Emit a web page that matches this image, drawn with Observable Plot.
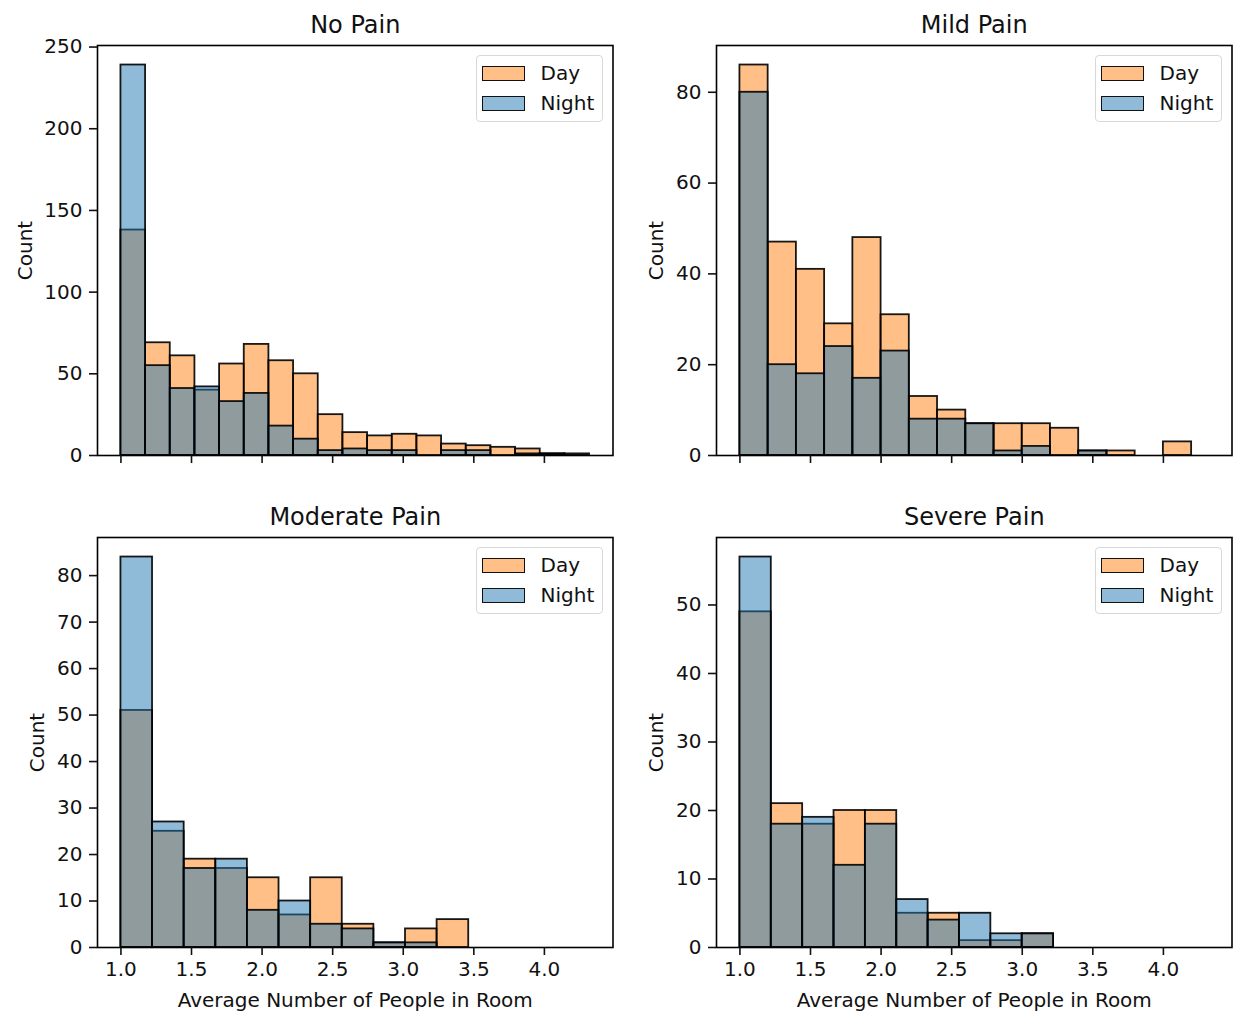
<!DOCTYPE html>
<html>
<head>
<meta charset="utf-8">
<script src="https://cdn.jsdelivr.net/npm/d3@7"></script>
<script src="https://cdn.jsdelivr.net/npm/@observablehq/plot@0.6"></script>
<style>
  html, body { margin: 0; padding: 0; background: #fff; }
  #chart { position: relative; width: 1245px; height: 1024px; font-family: "DejaVu Sans", sans-serif; overflow: hidden; }
  .panel { position: absolute; }
  .legend { position: absolute; box-sizing: border-box; border: 1.5px solid #d8d8d8; border-radius: 4px; background: rgba(255,255,255,0.8); }
  .sw { position: absolute; box-sizing: border-box; border: 1.6px solid #111; }
  .lt { position: absolute; font-size: 20px; line-height: 20px; color: #111; white-space: nowrap; }
</style>
</head>
<body>
<div id="chart"></div>
<script>
// ---- data ----
const panelTitles = ["No Pain", "Mild Pain", "Moderate Pain", "Severe Pain"];
const seriesNames = ["Day", "Night"];
const seriesColors = ["#ff7f0e", "#1f77b4"];
const binMin = [1.0, 1.0, 1.0, 1.0];
const binMax = [4.32, 4.2, 3.464, 3.222];

const dayNoPain   = [138, 69, 61, 40, 56, 68, 58, 50, 25, 14, 12, 13, 12, 7, 6, 5, 4, 1, 1];
const nightNoPain = [239, 55, 41, 42, 33, 38, 18, 10, 3, 4, 3, 3, 0, 3, 3, 0, 1, 1, 0];
const dayMild     = [86, 47, 41, 29, 48, 31, 13, 10, 7, 7, 7, 6, 1, 1, 0, 3];
const nightMild   = [80, 20, 18, 24, 17, 23, 8, 8, 7, 1, 2, 0, 1, 0, 0, 0];
const dayModerate   = [51, 25, 19, 17, 15, 7, 15, 5, 1, 4, 6];
const nightModerate = [84, 27, 17, 19, 8, 10, 5, 4, 1, 1, 0];
const daySevere   = [49, 21, 18, 20, 20, 5, 5, 1, 1, 2];
const nightSevere = [57, 18, 19, 12, 18, 7, 4, 5, 2, 2];

const yTicksNoPain   = [0, 50, 100, 150, 200, 250];
const yTicksMild     = [0, 20, 40, 60, 80];
const yTicksModerate = [0, 10, 20, 30, 40, 50, 60, 70, 80];
const yTicksSevere   = [0, 10, 20, 30, 40, 50];
const xTicks = [1.0, 1.5, 2.0, 2.5, 3.0, 3.5, 4.0];
const xLabel = "Average Number of People in Room";
const yLabel = "Count";

const dayCounts = [dayNoPain, dayMild, dayModerate, daySevere];
const nightCounts = [nightNoPain, nightMild, nightModerate, nightSevere];
const yTicksAll = [yTicksNoPain, yTicksMild, yTicksModerate, yTicksSevere];

// ---- layout ----
const frameLeft = [97, 716, 97, 716];
const frameTop = [45, 45, 537, 537];
const frameW = 515.5, frameH = 410;
const ML = 97, MR = 8, MT = 45;
const yLabelOffset = [80, 68, 68, 68];

const lo = d3.min(binMin), hi = d3.max(binMax);
const xDomain = [lo - 0.05 * (hi - lo), hi + 0.05 * (hi - lo)];

function binRows(counts, a, b) {
  const w = (b - a) / counts.length;
  return counts.map((c, i) => ({x1: a + i * w, x2: a + (i + 1) * w, y1: 0, y2: c}));
}

const chart = document.getElementById("chart");

for (let p = 0; p < 4; p++) {
  const bottom = p >= 2;
  const MB = bottom ? 80 : 30;
  const day = binRows(dayCounts[p], binMin[p], binMax[p]);
  const night = binRows(nightCounts[p], binMin[p], binMax[p]);
  const ymax = d3.max([...dayCounts[p], ...nightCounts[p]]) * 1.05;
  const barOpts = (color) => ({x1: "x1", x2: "x2", y1: "y1", y2: "y2", fill: color, fillOpacity: 0.5,
    stroke: "#000", strokeWidth: 1.8, strokeOpacity: 0.9});
  const svg = Plot.plot({
    width: ML + frameW + MR,
    height: MT + frameH + MB,
    marginLeft: ML, marginRight: MR, marginTop: MT, marginBottom: MB,
    x: {domain: xDomain},
    y: {domain: [0, ymax]},
    style: {fontFamily: "DejaVu Sans", fontSize: "20px", color: "#111", background: "transparent", overflow: "visible"},
    marks: [
      Plot.rect(day, barOpts(seriesColors[0])),
      Plot.rect(night, barOpts(seriesColors[1])),
      Plot.frame({stroke: "#000", strokeWidth: 1.6}),
      Plot.axisY({ticks: yTicksAll[p], tickSize: 8, tickPadding: 7, strokeWidth: 1.6,
        tickFormat: d3.format("d"),
        label: yLabel, labelAnchor: "center", labelOffset: yLabelOffset[p], labelArrow: "none"}),
      bottom
        ? Plot.axisX({ticks: xTicks, tickSize: 8, tickPadding: 6.5, strokeWidth: 1.6, tickFormat: d3.format(".1f"),
            label: xLabel, labelAnchor: "center", labelOffset: 59, labelArrow: "none"})
        : Plot.axisX({ticks: xTicks, tickSize: 8, strokeWidth: 1.6, tickFormat: () => "", label: null}),
      Plot.text([panelTitles[p]], {frameAnchor: "top", dy: -13, lineAnchor: "bottom", fontSize: 24, fill: "#111"})
    ]
  });
  svg.classList.add("panel");
  svg.style.left = (frameLeft[p] - ML) + "px";
  svg.style.top = (frameTop[p] - MT) + "px";
  chart.appendChild(svg);

  // legend
  const lg = document.createElement("div");
  lg.className = "legend";
  const lgLeft = frameLeft[p] + frameW - 137;
  const lgTop = frameTop[p] + 9.5;
  Object.assign(lg.style, {left: lgLeft + "px", top: lgTop + "px", width: "127px", height: "67px"});
  seriesNames.forEach((name, i) => {
    const sw = document.createElement("div");
    sw.className = "sw";
    const c = d3.color(seriesColors[i]); c.opacity = 0.5;
    Object.assign(sw.style, {left: "5px", top: (10 + i * 30) + "px", width: "43px", height: "15px", background: c.formatRgb()});
    lg.appendChild(sw);
    const t = document.createElement("div");
    t.className = "lt";
    t.textContent = name;
    Object.assign(t.style, {left: "64px", top: (7 + i * 30) + "px"});
    lg.appendChild(t);
  });
  chart.appendChild(lg);
}
</script>
</body>
</html>
